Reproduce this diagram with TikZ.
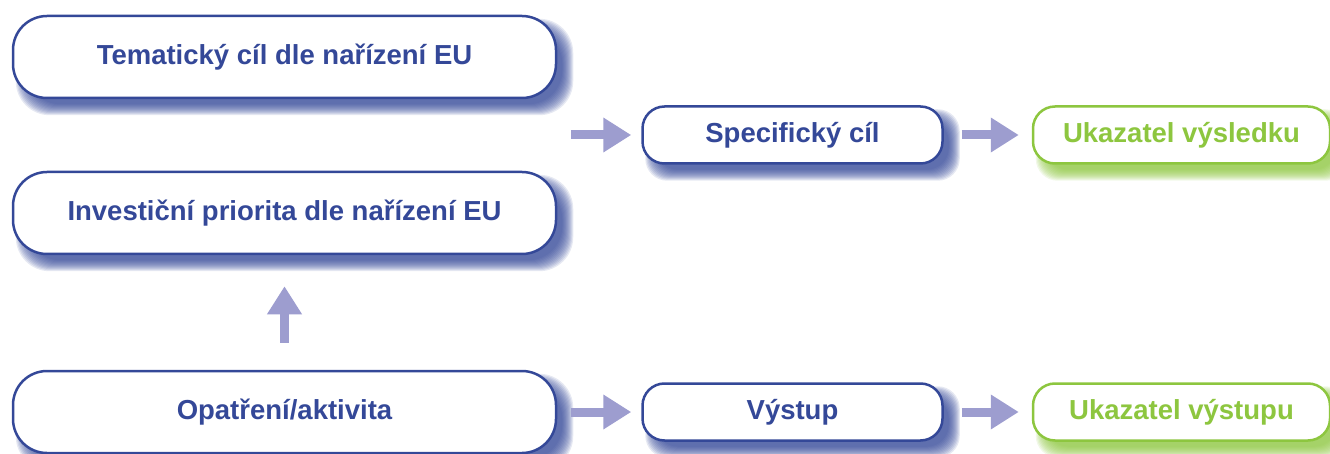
\documentclass[tikz,border=0pt]{standalone}
\usepackage{fontspec}
\setmainfont{Liberation Sans}
\usetikzlibrary{arrows.meta,calc}

\definecolor{eublue}{RGB}{52,72,152}
\definecolor{eugreen}{RGB}{141,198,63}
\definecolor{arrowlilac}{RGB}{157,157,207}

\pgfdeclarelayer{bg}
\pgfsetlayers{bg,main}

% soft shadow: node, colour, corner radius
\newcommand{\softshadow}[3]{%
    \foreach \s in {-6,...,5} {
        \fill[#2, opacity=0.12, rounded corners=#3]
            ($(#1.north west)+(10+\s,10+\s)$) rectangle ($(#1.south east)+(10-\s,10-\s)$);
    }%
}

\begin{document}
\begin{tikzpicture}[x=1pt, y=-1pt,
    bigbox/.style={draw=eublue, line width=2.5pt, fill=white, rounded corners=34pt,
        minimum width=543pt, minimum height=82pt, inner sep=0pt, text=eublue,
        font=\fontsize{27.5}{32}\selectfont\bfseries},
    smallbox/.style={bigbox, rounded corners=22pt, minimum width=300pt, minimum height=57pt},
    resbox/.style={smallbox, draw=eugreen, text=eugreen, minimum width=297pt},
    fatarrow/.style={draw=arrowlilac, line width=9pt, -{Triangle[length=28pt, width=33pt]}}]

    \useasboundingbox (0,0) rectangle (1330,454);

    \node[bigbox] (tema) at (284.5,57) {Tematický cíl dle nařízení EU};
    \node[bigbox] (inv) at (284.5,213) {Investiční priorita dle nařízení EU};
    \node[bigbox] (opa) at (284.5,412) {Opatření/aktivita};
    \node[smallbox] (spec) at (792.5,135) {Specifický cíl};
    \node[smallbox] (vys) at (792.5,412) {Výstup};
    \node[resbox] (ukv) at (1181.5,135) {Ukazatel výsledku};
    \node[resbox] (uko) at (1181.5,412) {Ukazatel výstupu};

    \begin{pgfonlayer}{bg}
        \softshadow{tema}{eublue}{34pt}
        \softshadow{inv}{eublue}{34pt}
        \softshadow{opa}{eublue}{34pt}
        \softshadow{spec}{eublue}{22pt}
        \softshadow{vys}{eublue}{22pt}
        \softshadow{ukv}{eugreen}{22pt}
        \softshadow{uko}{eugreen}{22pt}
    \end{pgfonlayer}

    \coordinate (topmid) at ($(tema.east)!0.5!(inv.east)$);

    \draw[fatarrow, shorten <=14pt, shorten >=10pt] (topmid) -- (spec);
    \draw[fatarrow, shorten <=18pt, shorten >=13pt] (spec) -- (ukv);
    \draw[fatarrow, shorten <=14pt, shorten >=10pt] (opa) -- (vys);
    \draw[fatarrow, shorten <=18pt, shorten >=13pt] (vys) -- (uko);
    \draw[fatarrow, shorten <=27pt, shorten >=31pt] (opa) -- (inv);
\end{tikzpicture}
\end{document}
